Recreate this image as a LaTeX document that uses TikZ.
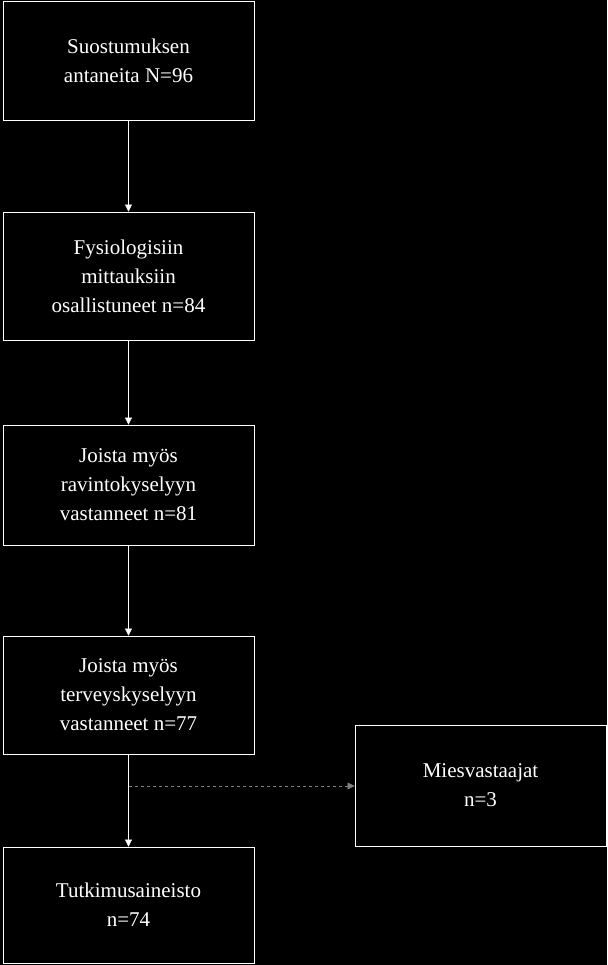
\documentclass[tikz,border=0pt]{standalone}
\usepackage{fontspec}
\setmainfont{Liberation Serif}
\usetikzlibrary{positioning,arrows.meta}
\tikzset{stage/.style={rectangle,draw=white,thick,text=white,align=center,
  minimum width=251pt,font=\fontsize{21}{29}\selectfont}}
\begin{document}
\begin{tikzpicture}[x=1pt,y=-1pt,>={Triangle[length=7pt,width=7pt]}]
  \fill[black] (0,0) rectangle (607,965);
  \useasboundingbox (0,0) rectangle (607,965);
  \node[stage,minimum height=119pt] (sov) at (128.5,60.5) {Suostumuksen\\antaneita N=96};
  \node[stage,minimum height=128pt] (fys) at (128.5,276) {Fysiologisiin\\mittauksiin\\osallistuneet n=84};
  \node[stage,minimum height=120pt] (rav) at (128.5,485) {Joista myös\\ravintokyselyyn\\vastanneet n=81};
  \node[stage,minimum height=118pt] (ter) at (128.5,695) {Joista myös\\terveyskyselyyn\\vastanneet n=77};
  \node[stage,minimum height=116pt] (tut) at (128.5,905) {Tutkimusaineisto\\n=74};
  \node[stage,minimum height=121pt] (mie) at (480.5,785.5) {Miesvastaajat\\n=3};
  \draw[->,white] (sov) -- (fys);
  \draw[->,white] (fys) -- (rav);
  \draw[->,white] (rav) -- (ter);
  \draw[->,white] (ter) -- (tut);
  \coordinate (haara) at (128.5,786);
  \draw[->,gray,dashed] (haara) -- (mie.west |- haara);
\end{tikzpicture}
\end{document}
